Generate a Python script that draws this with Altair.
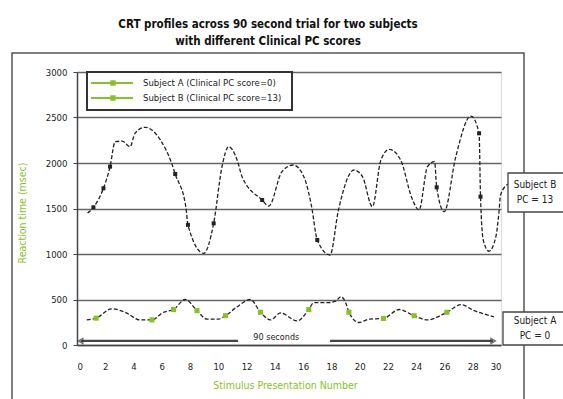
import altair as alt
import pandas as pd

# ---- data -------------------------------------------------------------
# Subject B (Clinical PC score = 13): knots of the smoothed CRT profile
b_x = [0.75, 1.16, 1.87, 2.34, 2.7, 3.2, 3.76, 4.1, 4.82, 5.9, 6.7, 6.95,
       7.7, 7.85, 8.96, 9.67, 10.26, 10.73, 11.33, 11.68, 13.1, 13.57, 14.5,
       15.3, 16.05, 16.6, 17.0, 17.9, 18.5, 19.6, 20.2, 20.9, 21.5, 22.1,
       22.9, 23.7, 24.2, 24.8, 25.3, 25.45, 25.98, 26.8, 27.87, 28.45, 28.55,
       28.75, 29.15, 29.65, 29.85, 29.97, 30.5]
b_rt = [1450, 1513, 1722, 1960, 2234, 2240, 2179, 2326, 2392, 2253, 1996, 1879,
        1520, 1320, 1007, 1337, 1960, 2179, 2033, 1850, 1593, 1527, 1905,
        1978, 1850, 1520, 1154, 989, 1484, 1923, 1850, 1520, 2033, 2150,
        2033, 1612, 1484, 1960, 2015, 1733, 1465, 2069, 2516, 2326, 1630,
        1150, 1030, 1200, 1450, 1650, 1770]
b_mark = [0, 1, 1, 1, 0, 0, 0, 0, 0, 0, 0, 1,
          0, 1, 0, 1, 0, 0, 0, 0, 1, 0, 0,
          0, 0, 0, 1, 0, 0, 0, 0, 0, 0, 0,
          0, 0, 0, 0, 0, 1, 0, 0, 0, 1, 1,
          0, 0, 0, 0, 0, 0]

# Subject A (Clinical PC score = 0)
a_x = [0.69, 1.35, 2.46, 3.4, 4.47, 5.3, 6.12, 6.83, 7.66, 8.49, 9.2, 10.02,
       10.5, 11.3, 12.27, 12.98, 13.69, 14.4, 15.58, 16.4, 16.76, 17.8, 18.3,
       18.65, 19.0, 19.24, 19.95, 20.66, 21.68, 22.8, 23.85, 24.8, 26.17,
       27.16, 28.1, 29.5]
a_rt = [276, 295, 398, 360, 276, 276, 360, 390, 500, 378, 284, 284,
        322, 417, 500, 360, 276, 352, 265, 390, 466, 466, 481,
        530, 470, 360, 247, 284, 292, 390, 322, 276, 360,
        443, 378, 310]
a_mark = [0, 1, 0, 0, 0, 1, 0, 1, 0, 1, 0, 0,
          1, 0, 0, 1, 0, 0, 0, 1, 0, 0, 0,
          0, 0, 1, 0, 0, 1, 0, 1, 0, 1,
          0, 0, 0]

# "90 seconds" span arrow along the bottom of the plot
span_start, span_end = 0.25, 29.45
span_gap = (11.4, 17.9)
span_level = 45
span_label = "90 seconds"
span_label_x = 14.1

legend_labels = ["Subject A (Clinical PC score=0)",
                 "Subject B (Clinical PC score=13)"]
callout_a = ["Subject A", "PC = 0"]
callout_b = ["Subject B", "PC = 13"]

title_lines = ["CRT profiles across 90 second trial for two subjects",
               "with different Clinical PC scores"]

# ---- styling ------------------------------------------------------------
GREEN = "#86c226"
INK = "#222222"
GRID = "#666666"
FONT = "Liberation Sans Narrow, Arial Narrow, DejaVu Sans Condensed, sans-serif"
W, H = 424, 273

df_b = pd.DataFrame({"x": b_x, "rt": b_rt, "mark": b_mark})
df_a = pd.DataFrame({"x": a_x, "rt": a_rt, "mark": a_mark})

x_enc = alt.X("x:Q",
              scale=alt.Scale(domain=[0, 30], nice=False, zero=False),
              axis=alt.Axis(values=list(range(0, 31, 2)), title="Stimulus Presentation Number",
                            grid=False, domainColor="#444", domainWidth=1.5,
                            ticks=False, labelPadding=16, labelFontSize=9.5,
                            labelFont=FONT, labelColor="#222", format="d",
                            titleColor=GREEN, titleFont=FONT, titleFontSize=10.5,
                            titleFontWeight="normal", titleX=W / 2 - 4, titleY=40,
                            titleBaseline="middle"))
y_enc = alt.Y("rt:Q",
              scale=alt.Scale(domain=[0, 3000], nice=False),
              axis=alt.Axis(values=list(range(0, 3001, 500)), title="Reaction time (msec)",
                            grid=True, gridColor=GRID, gridWidth=1.4, format="d",
                            domainColor="#444", domainWidth=1.5,
                            tickSize=4, tickColor="#444", labelPadding=6,
                            labelFontSize=9.5, labelFont=FONT, labelColor="#222",
                            titleColor=GREEN, titleFont=FONT, titleFontSize=10.5,
                            titleFontWeight="normal", titleX=-55, titleY=H / 2 + 4,
                            titleAlign="center", titleBaseline="middle", titleAngle=-90))

one = alt.Data(values=[{}])

# outer chart-area frame
frame = alt.Chart(one).mark_rect(fill=None, stroke="#555", strokeWidth=1.5).encode(
    x=alt.value(-65), x2=alt.value(447), y=alt.value(-19), y2=alt.value(345))

line_b = alt.Chart(df_b).mark_line(
    interpolate="monotone", color=INK, strokeWidth=1.3, strokeDash=[4, 2]
).encode(x=x_enc, y=y_enc)
pts_b = alt.Chart(df_b).transform_filter("datum.mark == 1").mark_square(
    size=16, color=INK, opacity=1).encode(x=x_enc, y=y_enc)

line_a = alt.Chart(df_a).mark_line(
    interpolate="monotone", color=INK, strokeWidth=1.3, strokeDash=[4, 2]
).encode(x=x_enc, y=y_enc)
pts_a = alt.Chart(df_a).transform_filter("datum.mark == 1").mark_square(
    size=26, color=GREEN, opacity=1).encode(x=x_enc, y=y_enc)

# span arrow
span_df = pd.DataFrame({"x": [span_start, span_gap[1]], "x2": [span_gap[0], span_end],
                        "rt": [span_level, span_level]})
span_rule = alt.Chart(span_df).mark_rule(color="#444", strokeWidth=2.2).encode(
    x=x_enc, x2="x2:Q", y=y_enc)
heads_df = pd.DataFrame({"x": [span_start, span_end], "rt": [span_level, span_level],
                         "shape": ["triangle-left", "triangle-right"]})
span_heads = alt.Chart(heads_df).mark_point(
    filled=False, color="#333", size=30, strokeWidth=1.2).encode(
    x=x_enc, y=y_enc, shape=alt.Shape("shape:N", scale=None, legend=None))
span_text = alt.Chart(pd.DataFrame({"x": [span_label_x],
                                    "rt": [span_level + 45], "t": [span_label]})).mark_text(
    font=FONT, fontSize=9, color="#222").encode(x=x_enc, y=y_enc, text="t:N")

# legend panel
leg_box = alt.Chart(one).mark_rect(fill="white", stroke="#333", strokeWidth=2).encode(
    x=alt.value(10), x2=alt.value(215), y=alt.value(0), y2=alt.value(38))
leg_df = pd.DataFrame({"label": legend_labels, "row": [11, 26]})
leg_line = alt.Chart(leg_df).mark_rule(color=GREEN, strokeWidth=2).encode(
    x=alt.value(14), x2=alt.value(56), y=alt.Y("row:Q", scale=None))
leg_mark = alt.Chart(leg_df).mark_square(color=GREEN, size=30, opacity=1).encode(
    x=alt.value(36), y=alt.Y("row:Q", scale=None))
leg_text = alt.Chart(leg_df).mark_text(
    align="left", baseline="middle", font=FONT, fontSize=9.5, color="#222").encode(
    x=alt.value(66), y=alt.Y("row:Q", scale=None), text="label:N")

# subject callouts at the right edge
def callout(lines, top, bottom, left):
    box = alt.Chart(one).mark_rect(fill="white", stroke="#444", strokeWidth=1.3).encode(
        x=alt.value(left), x2=alt.value(495), y=alt.value(top), y2=alt.value(bottom))
    mid = (top + bottom) / 2
    tdf = pd.DataFrame({"t": lines, "row": [mid - 7.5, mid + 7.5]})
    txt = alt.Chart(tdf).mark_text(font=FONT, fontSize=10, color="#222",
                                   baseline="middle").encode(
        x=alt.value(458), y=alt.Y("row:Q", scale=None), text="t:N")
    return box + txt

call_b = callout(callout_b, 101, 140, 431)
call_a = callout(callout_a, 240, 273, 426)

chart = alt.layer(
    frame, line_b, line_a, pts_b, pts_a, span_rule, span_heads, span_text,
    leg_box, leg_line, leg_mark, leg_text, call_b, call_a
).properties(
    width=W, height=H,
    title=alt.TitleParams(title_lines, font=FONT, fontSize=11.5, fontWeight="bold",
                          color="#111", anchor="middle", dx=-21, offset=5,
                          lineHeight=17),
    autosize=alt.AutoSizeParams(type="none"),
    padding={"left": 77, "top": 72, "right": 62, "bottom": 54},
).configure_view(stroke=None).configure(background="white")

chart.save("out.html", embed_options={"renderer": "svg", "actions": False})
